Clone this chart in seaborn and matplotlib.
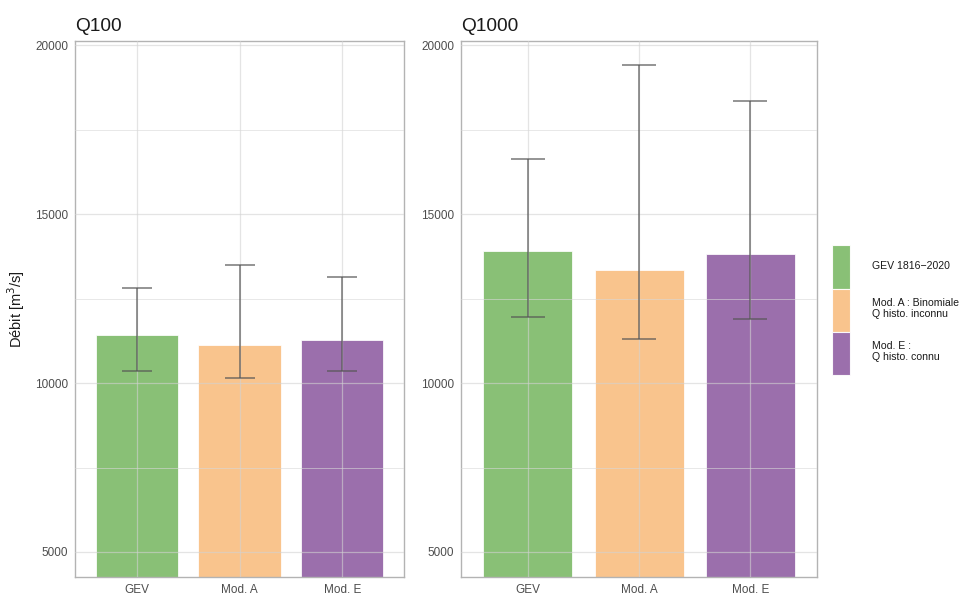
import matplotlib
matplotlib.use("Agg")
import matplotlib.pyplot as plt
from matplotlib.patches import Patch
from matplotlib.ticker import MultipleLocator
import seaborn as sns

# data
models = ["GEV", "Mod. A", "Mod. E"]
legend_labels = ["GEV 1816\u22122020", "Mod. A : Binomiale\nQ histo. inconnu", "Mod. E :\nQ histo. connu"]
colors = ["#7CB967", "#F9BE81", "#905FA3"]

q100_est = [11420, 11120, 11270]
q100_low = [10350, 10150, 10370]
q100_high = [12810, 13490, 13140]

q1000_est = [13910, 13350, 13820]
q1000_low = [11950, 11300, 11880]
q1000_high = [16630, 19410, 18340]

sns.set_style("white")
plt.rcParams["font.family"] = ["Liberation Sans", "DejaVu Sans"]

fig = plt.figure(figsize=(9.6, 5.94), dpi=100)
ax1 = fig.add_axes([75 / 960, 17 / 594, 329 / 960, 536 / 594])
ax2 = fig.add_axes([461 / 960, 17 / 594, 356 / 960, 536 / 594])

panels = [(ax1, "Q100", q100_est, q100_low, q100_high, 11.0),
          (ax2, "Q1000", q1000_est, q1000_low, q1000_high, 12.0)]

for ax, title, est, low, high, cap in panels:
    sns.barplot(x=models, y=est, hue=models, palette=colors, ax=ax,
                legend=False, width=0.8, alpha=0.9, saturation=1,
                edgecolor="#FFFFFF", linewidth=0.6, zorder=1)
    yerr = [[e - l for e, l in zip(est, low)], [h - e for e, h in zip(est, high)]]
    ax.errorbar(range(len(models)), est, yerr=yerr, fmt="none",
                ecolor="#555555", alpha=0.8, elinewidth=1.1, capsize=cap,
                capthick=1.1, zorder=3)
    ax.set_xlim(-0.6, 2.6)
    ax.set_ylim(4260, 20120)
    ax.yaxis.set_major_locator(MultipleLocator(5000))
    ax.yaxis.set_minor_locator(MultipleLocator(2500))
    ax.grid(which="major", color="#D2D2D2", alpha=0.6, linewidth=0.9)
    ax.grid(which="minor", axis="y", color="#D8D8D8", alpha=0.6, linewidth=0.7)
    ax.set_axisbelow(False)
    for sp in ax.spines.values():
        sp.set_color("#B3B3B3")
        sp.set_linewidth(1.0)
    ax.tick_params(which="major", length=3, width=0.8, color="#B3B3B3",
                   labelsize=8.5, labelcolor="#4D4D4D", pad=2)
    ax.tick_params(which="minor", length=0)
    ax.set_xlabel("")
    ax.set_ylabel("")
    ax.set_title(title, loc="left", fontsize=13.8, color="#1A1A1A", pad=7)

# grid over the translucent bars, under the error bars
for ax in (ax1, ax2):
    for gl in ax.get_xgridlines() + ax.get_ygridlines():
        gl.set_zorder(2)
    for gl in ax.yaxis.get_minorticklines():
        gl.set_zorder(2)

ax1.set_ylabel("D\u00e9bit [m$^3$/s]", fontsize=10.5, color="#1A1A1A", labelpad=6)

handles = [Patch(facecolor=c, alpha=0.9, edgecolor="#FFFFFF", linewidth=0.8) for c in colors]
fig.legend(handles, legend_labels, loc="center left",
           bbox_to_anchor=(832 / 960, 0.478), frameon=False, fontsize=7.6,
           labelcolor="#1A1A1A",
           handlelength=1.7, handleheight=5.9, handletextpad=2.1,
           labelspacing=0.0, borderpad=0.0, borderaxespad=0.0)

fig.savefig("out.png", dpi=100)
